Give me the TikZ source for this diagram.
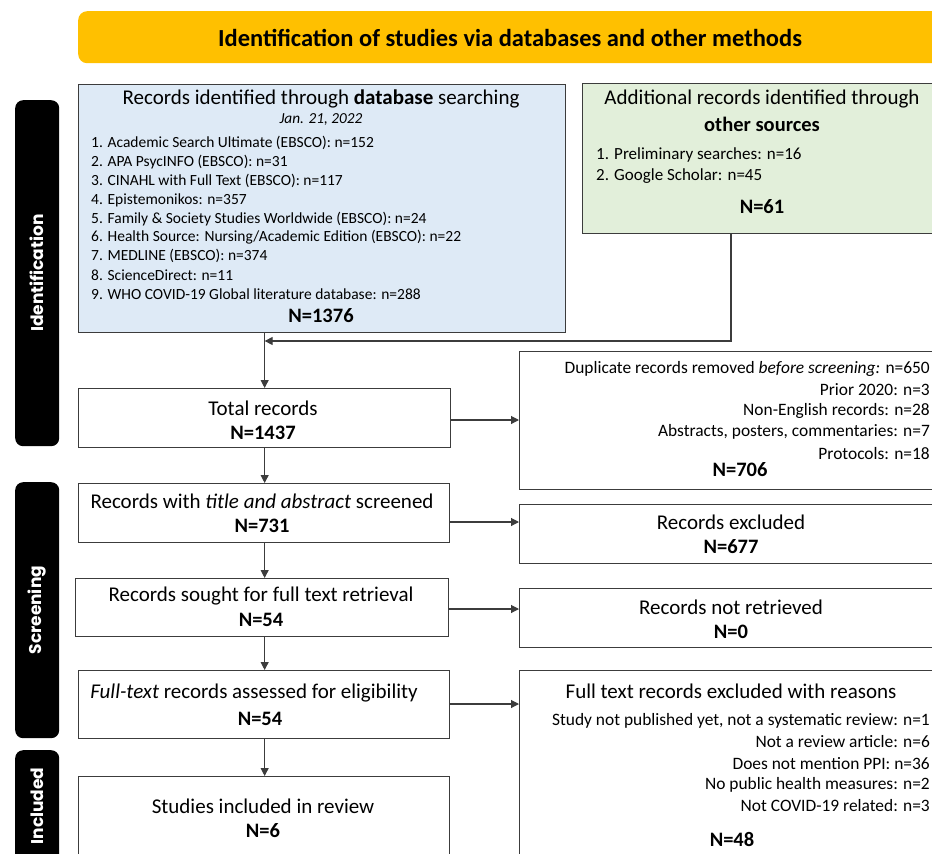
\documentclass[tikz,border=0pt]{standalone}
\usepackage{fontspec}
\setmainfont{Carlito}
\newfontfamily\sidefont{Poppins}
\usetikzlibrary{arrows.meta}
\definecolor{bann}{HTML}{FFC000}
\definecolor{bluef}{HTML}{DEEAF6}
\definecolor{greenf}{HTML}{E2EFDA}
\definecolor{edge}{HTML}{3C3C3C}
\tikzset{
  box/.style={draw=edge, line width=1.3pt, anchor=north west, inner sep=0pt},
  side/.style={fill=black, rounded corners=8pt, anchor=north west, inner sep=0pt, minimum width=44pt},
  sidetxt/.style={text=white, rotate=90, font=\sidefont\bfseries\fontsize{17}{19}\selectfont, inner sep=0pt},
  ttl/.style={font=\fontsize{21}{23}\selectfont, inner sep=0pt},
  big/.style={font=\bfseries\fontsize{20.5}{23}\selectfont, inner sep=0pt},
  lst/.style={font=\fontsize{15.5}{17}\selectfont, inner sep=0pt, anchor=west},
  glst/.style={font=\fontsize{17}{19}\selectfont, inner sep=0pt, anchor=west},
  rlst/.style={font=\fontsize{17.4}{19}\selectfont, inner sep=0pt, anchor=east},
  arr/.style={draw=edge, line width=1.1pt, -{Triangle[length=8pt,width=8pt]}}
}
\begin{document}
\begin{tikzpicture}[x=1pt,y=-1pt]
\useasboundingbox (0,0) rectangle (932,854);
\clip (0,0) rectangle (932,854);
% banner
\node[fill=bann, rounded corners=9pt, anchor=north west, minimum width=880pt, minimum height=52pt, inner sep=0pt] (banner) at (78,11) {};
\node[font=\bfseries\fontsize{24.5}{27}\selectfont, inner sep=0pt] (bannertxt) at (510,38) {Identification of studies via databases and other methods};
% side labels
\node[side, minimum height=346pt] (sideid) at (15,100) {};
\node[sidetxt] (sideidt) at (sideid.center) {Identification};
\node[side, minimum height=256pt] (sidesc) at (15,482) {};
\node[sidetxt] (sidesct) at (sidesc.center) {Screening};
\node[side, minimum height=130pt] (sidein) at (15,750) {};
\node[sidetxt] (sideint) at (37,806) {Included};
% blue box
\node[box, fill=bluef, minimum width=487pt, minimum height=248pt] (blue) at (78,84) {};
\node[ttl] (bluet) at (321,99) {Records identified through \textbf{database} searching};
\node[font=\itshape\fontsize{15.3}{17}\selectfont, inner sep=0pt] (blued) at (321,120) {Jan. 21, 2022};
\node[lst] (b1) at (91,143) {1. Academic Search Ultimate (EBSCO): n=152};
\node[lst] (b2) at (91,162) {2. APA PsycINFO (EBSCO): n=31};
\node[lst] (b3) at (91,181) {3. CINAHL with Full Text (EBSCO): n=117};
\node[lst] (b4) at (91,200) {4. Epistemonikos: n=357};
\node[lst] (b5) at (91,219) {5. Family \& Society Studies Worldwide (EBSCO): n=24};
\node[lst] (b6) at (91,237) {6. Health Source: Nursing/Academic Edition (EBSCO): n=22};
\node[lst] (b7) at (91,256) {7. MEDLINE (EBSCO): n=374};
\node[lst] (b8) at (91,275) {8. ScienceDirect: n=11};
\node[lst] (b9) at (91,294) {9. WHO COVID-19 Global literature database: n=288};
\node[big] (bn) at (321,316) {N=1376};
% green box
\node[box, fill=greenf, minimum width=380pt, minimum height=150pt] (green) at (582,83) {};
\node[ttl] (greent1) at (762,99) {Additional records identified through};
\node[big] (greent2) at (762,124) {other sources};
\node[glst] (g1) at (596,155) {1. Preliminary searches: n=16};
\node[glst] (g2) at (596,176) {2. Google Scholar: n=45};
\node[big] (gn) at (762,207) {N=61};
% total records
\node[box, minimum width=372pt, minimum height=59pt] (tot) at (78,388) {};
\node[ttl] (tott) at (263,408) {Total records};
\node[big] (totn) at (263,433) {N=1437};
% duplicates
\node[box, minimum width=430pt, minimum height=138pt] (dup) at (519,351) {};
\node[rlst] (d1) at (930,369) {Duplicate records removed \textit{before screening:} n=650};
\node[rlst] (d2) at (930,390) {Prior 2020: n=3};
\node[rlst] (d3) at (930,411) {Non-English records: n=28};
\node[rlst] (d4) at (930,432) {Abstracts, posters, commentaries: n=7};
\node[rlst] (d5) at (930,454) {Protocols: n=18};
\node[big] (dn) at (740,470) {N=706};
% title and abstract
\node[box, minimum width=371pt, minimum height=59pt] (tas) at (78,483) {};
\node[ttl] (tast) at (262,501) {Records with \textit{title and abstract} screened};
\node[big] (tasn) at (262,526) {N=731};
% excluded
\node[box, minimum width=430pt, minimum height=59pt] (exc) at (519,504) {};
\node[ttl] (exct) at (731,522) {Records excluded};
\node[big] (excn) at (731,547) {N=677};
% sought
\node[box, minimum width=373pt, minimum height=58pt] (sou) at (75,578) {};
\node[ttl] (sout) at (261,596) {Records sought for full text retrieval};
\node[big] (soun) at (261,620) {N=54};
% not retrieved
\node[box, minimum width=430pt, minimum height=59pt] (nret) at (519,588) {};
\node[ttl] (nrett) at (731,607) {Records not retrieved};
\node[big] (nretn) at (731,632) {N=0};
% full text
\node[box, minimum width=371pt, minimum height=68pt] (ful) at (78,670) {};
\node[ttl] (fult) at (254,693) {\textit{Full-text} records assessed for eligibility};
\node[big] (fuln) at (260,719) {N=54};
% full text excluded
\node[box, minimum width=430pt, minimum height=220pt] (fex) at (519,670) {};
\node[ttl] (fext) at (731,691) {Full text records excluded with reasons};
\node[rlst] (f1) at (930,721) {Study not published yet, not a systematic review: n=1};
\node[rlst] (f2) at (930,742) {Not a review article: n=6};
\node[rlst] (f3) at (930,764) {Does not mention PPI: n=36};
\node[rlst] (f4) at (930,785) {No public health measures: n=2};
\node[rlst] (f5) at (930,806) {Not COVID-19 related: n=3};
\node[big] (fexn) at (732,839) {N=48};
% studies included
\node[box, minimum width=371pt, minimum height=110pt] (inc) at (78,776) {};
\node[ttl] (inct) at (263,806) {Studies included in review};
\node[big] (incn) at (263,831) {N=6};
% connectors
\coordinate (gj) at (731,341);
\draw[arr] (blue.south -| tot.north) -- (tot.north);
\draw[arr] (green.south -| gj) -- (gj) -- (gj -| tot.north);
\draw[arr] (tot.east |- 0,420) -- (dup.west |- 0,420);
\draw[arr] (tot.south) -- (tas.north -| tot.south);
\draw[arr] (tas.east |- 0,522) -- (exc.west |- 0,522);
\draw[arr] (tas.south -| tot.south) -- (sou.north -| tot.south);
\draw[arr] (sou.east |- 0,609) -- (nret.west |- 0,609);
\draw[arr] (sou.south -| tot.south) -- (ful.north -| tot.south);
\draw[arr] (ful.east |- 0,704) -- (fex.west |- 0,704);
\draw[arr] (ful.south -| tot.south) -- (inc.north -| tot.south);
\end{tikzpicture}
\end{document}
